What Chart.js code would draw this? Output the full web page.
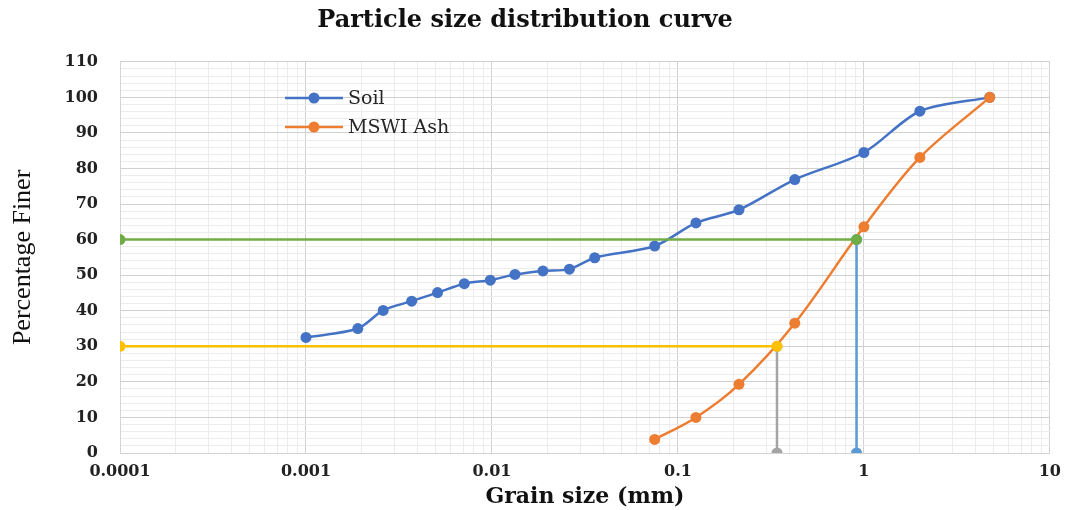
<!DOCTYPE html>
<html>
<head>
<meta charset="utf-8">
<script src="https://cdn.jsdelivr.net/npm/chart.js@4"></script>
<style>
  html, body { margin: 0; padding: 0; background: #ffffff; }
  #wrap { width: 1070px; height: 510px; }
</style>
</head>
<body>
<div id="wrap"><canvas id="psdChart" width="1070" height="510"></canvas></div>
<script>
// ==========================
// DATA
// ==========================
const soilSize = [0.001, 0.0019, 0.0026, 0.0037, 0.0051, 0.0071, 0.0098, 0.0133, 0.0188, 0.0261, 0.0357, 0.075, 0.125, 0.213, 0.425, 1.0, 2.0, 4.75];
const soilFiner = [32.5, 35.0, 40.1, 42.7, 45.1, 47.6, 48.6, 50.2, 51.2, 51.7, 54.9, 58.2, 64.7, 68.4, 76.9, 84.5, 96.1, 100];

const ashSize = [0.075, 0.125, 0.213, 0.425, 1.0, 2.0, 4.75];
const ashFiner = [3.8, 10.0, 19.3, 36.5, 63.6, 83.1, 100];

// D60 / D30 guide lines
const d60Size = [0.0001, 0.913];
const d60Finer = [60, 60];
const d60DropSize = [0.913, 0.913];
const d60DropFiner = [60, 0];
const d30Size = [0.0001, 0.341];
const d30Finer = [30, 30];
const d30DropSize = [0.341, 0.341];
const d30DropFiner = [30, 0];

// axes
const xTickValues = [0.0001, 0.001, 0.01, 0.1, 1, 10];
const xTickLabels = ['0.0001', '0.001', '0.01', '0.1', '1', '10'];
const yMin = 0;
const yMax = 110;
const yMinorStep = 2;
const yMajorStep = 10;

const legendNames = ['Soil', 'MSWI Ash'];

function toPoints(xs, ys) {
    return xs.map((x, i) => ({ x: x, y: ys[i] }));
}

// ==========================
// LEGEND INSIDE PLOT
// ==========================
const innerLegend = {
    id: 'innerLegend',
    afterDatasetsDraw(chart) {
        const ctx = chart.ctx;
        const rows = [
            { ds: chart.data.datasets[0], y: 98 },
            { ds: chart.data.datasets[1], y: 127 }
        ];
        ctx.save();
        rows.forEach(r => {
            ctx.strokeStyle = r.ds.borderColor;
            ctx.lineWidth = 2.5;
            ctx.beginPath();
            ctx.moveTo(285, r.y);
            ctx.lineTo(343, r.y);
            ctx.stroke();
            ctx.fillStyle = r.ds.pointBackgroundColor;
            ctx.beginPath();
            ctx.arc(314, r.y, 5.5, 0, Math.PI * 2);
            ctx.fill();
            ctx.fillStyle = '#262626';
            ctx.font = '19px "DejaVu Serif"';
            ctx.textBaseline = 'middle';
            ctx.fillText(r.ds.label, 348, r.y + 1);
        });
        ctx.restore();
    }
};

// ==========================
// CHART
// ==========================
const ctx = document.getElementById('psdChart').getContext('2d');

function lineSet(label, pts, color, tension, order) {
    return {
        label: label,
        data: pts,
        order: order,
        borderColor: color,
        backgroundColor: color,
        pointBackgroundColor: color,
        pointBorderColor: color,
        pointBorderWidth: 0,
        pointRadius: 5.5,
        pointHoverRadius: 5.5,
        borderWidth: 2.5,
        tension: tension,
        fill: false
    };
}

const psdChart = new Chart(ctx, {
    type: 'line',
    data: {
        datasets: [
            lineSet(legendNames[0], toPoints(soilSize, soilFiner), '#4472C4', 0.3, 3),
            lineSet(legendNames[1], toPoints(ashSize, ashFiner), '#ED7D31', 0.33, 2),
            lineSet('D60', toPoints(d60Size, d60Finer), '#70AD47', 0, 0),
            lineSet('D30', toPoints(d30Size, d30Finer), '#FFC000', 0, 1),
            lineSet('D60 drop', toPoints(d60DropSize, d60DropFiner), '#5B9BD5', 0, 4),
            lineSet('D30 drop', toPoints(d30DropSize, d30DropFiner), '#A5A5A5', 0, 5)
        ]
    },
    options: {
        responsive: false,
        animation: false,
        layout: { padding: { left: 0, right: 20, top: 0, bottom: 0 } },
        plugins: {
            legend: { display: false },
            tooltip: { enabled: false },
            title: {
                display: true,
                text: 'Particle size distribution curve',
                color: '#111111',
                font: { family: '"DejaVu Serif"', size: 24, weight: 'bold' },
                padding: { top: 6, bottom: 27 }
            }
        },
        scales: {
            x: {
                type: 'logarithmic',
                min: 0.0001,
                max: 10,
                afterBuildTicks(scale) {
                    const ticks = [];
                    for (let e = -4; e < 1; e++) {
                        for (let m = 1; m <= 9; m++) {
                            ticks.push({ value: Number((m * Math.pow(10, e)).toPrecision(6)) });
                        }
                    }
                    ticks.push({ value: 10 });
                    scale.ticks = ticks;
                },
                afterFit(scale) { scale.height = 57; },
                border: { display: true, color: '#d4d4d4' },
                grid: {
                    drawTicks: false,
                    color: (c) => (c.tick && xTickValues.indexOf(c.tick.value) >= 0) ? '#d0d0d0' : '#ececec',
                    lineWidth: 1
                },
                ticks: {
                    autoSkip: false,
                    maxRotation: 0,
                    padding: 9,
                    color: '#222222',
                    font: { family: '"DejaVu Serif"', size: 16, weight: 'bold' },
                    callback: (v) => {
                        const i = xTickValues.indexOf(v);
                        return i >= 0 ? xTickLabels[i] : '';
                    }
                },
                title: {
                    display: true,
                    text: 'Grain size (mm)',
                    color: '#111111',
                    font: { family: '"DejaVu Serif"', size: 22, weight: 'bold' },
                    padding: { top: 0, bottom: 0 }
                }
            },
            y: {
                type: 'linear',
                min: yMin,
                max: yMax,
                afterFit(scale) { scale.width = 120; },
                border: { display: true, color: '#d4d4d4' },
                grid: {
                    drawTicks: false,
                    color: (c) => (c.tick && c.tick.value % yMajorStep === 0) ? '#d0d0d0' : '#ececec',
                    lineWidth: 1
                },
                ticks: {
                    stepSize: yMinorStep,
                    autoSkip: false,
                    padding: 22,
                    color: '#222222',
                    font: { family: '"DejaVu Serif"', size: 16, weight: 'bold' },
                    callback: (v) => (v % yMajorStep === 0 ? String(v) : '')
                },
                title: {
                    display: true,
                    text: 'Percentage Finer',
                    color: '#111111',
                    font: { family: '"Liberation Serif"', size: 26 },
                    padding: { top: 8, bottom: 0 }
                }
            }
        }
    },
    plugins: [innerLegend]
});
</script>
</body>
</html>
